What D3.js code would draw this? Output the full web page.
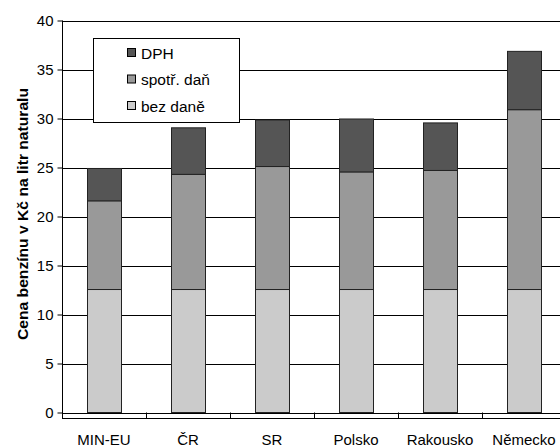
<!DOCTYPE html>
<html>
<head>
<meta charset="utf-8">
<script src="https://cdn.jsdelivr.net/npm/d3@7.9.0/dist/d3.min.js"></script>
<style>
  body { margin: 0; background: #fff; }
  text { font-family: Arial, "Liberation Sans", sans-serif; }
</style>
</head>
<body>
<svg id="chart" width="560" height="446"></svg>
<script>
const countries = ['MIN-EU', 'ČR', 'SR', 'Polsko', 'Rakousko', 'Německo'];
const bezDane = [12.55, 12.55, 12.55, 12.55, 12.55, 12.55];
const spotrDan = [9.05, 11.75, 12.55, 12.0, 12.15, 18.35];
const dph = [3.3, 4.75, 4.75, 5.4, 4.85, 5.95];
const seriesNames = ['bez daně', 'spotř. daň', 'DPH'];
const seriesColors = ['#cbcbcb', '#999999', '#555555'];
const yTicks = [0, 5, 10, 15, 20, 25, 30, 35, 40];

const svg = d3.select('#chart');
const plotLeft = 62, plotRight = 566, plotTop = 20.5, zeroY = 412.5;

let xb = d3.scaleBand().domain(countries).range([plotLeft, plotRight]);
let y = d3.scaleLinear().domain([0, 40]).range([zeroY, plotTop]);

// gridlines
svg.append('g').selectAll('line').data(yTicks).join('line')
  .attr('x1', plotLeft).attr('x2', 560)
  .attr('y1', d => Math.round(y(d)) + 0.5).attr('y2', d => Math.round(y(d)) + 0.5)
  .attr('stroke', '#000').attr('stroke-width', 1);

// stacked bars
let rows = countries.map((c, i) => ({ c, s0: bezDane[i], s1: spotrDan[i], s2: dph[i] }));
let stack = d3.stack().keys(['s0', 's1', 's2'])(rows);
let bw = 34;
stack.forEach((layer, k) => {
  svg.append('g').selectAll('rect').data(layer).join('rect')
    .attr('x', d => Math.round(xb(d.data.c) + xb.bandwidth() / 2 - bw / 2) + 0.5)
    .attr('width', bw)
    .attr('y', d => y(d[1]))
    .attr('height', d => y(d[0]) - y(d[1]))
    .attr('fill', seriesColors[k])
    .attr('stroke', '#222').attr('stroke-width', 1);
});

// y axis
let yAxis = d3.axisLeft(y).tickValues(yTicks).tickSize(5).tickPadding(4);
let gy = svg.append('g').attr('transform', `translate(${plotLeft + 0.5},0)`).call(yAxis);
gy.select('.domain').attr('d', `M0,${plotTop}V418.5`).attr('stroke', '#000');
gy.selectAll('text').attr('font-size', 15).attr('font-family', 'Arial, "Liberation Sans", sans-serif').attr('fill', '#000');
gy.selectAll('.tick line').attr('stroke', '#000');

// x axis line below zero
let gx = svg.append('g').attr('transform', 'translate(0,418.5)');
gx.append('line').attr('x1', plotLeft).attr('x2', 560).attr('stroke', '#000');
gx.selectAll('.sep').data(countries.slice(1)).join('line').attr('class', 'sep')
  .attr('x1', d => Math.round(xb(d)) + 0.5).attr('x2', d => Math.round(xb(d)) + 0.5)
  .attr('y1', 0).attr('y2', -6).attr('stroke', '#000');
gx.selectAll('text').data(countries).join('text')
  .attr('x', d => xb(d) + xb.bandwidth() / 2).attr('y', 26)
  .attr('text-anchor', 'middle').attr('font-size', 15).text(d => d);

// y label
svg.append('text')
  .attr('transform', 'translate(28,214) rotate(-90)')
  .attr('text-anchor', 'middle').attr('font-size', 14).attr('font-weight', 'bold')
  .attr('textLength', 252).attr('lengthAdjust', 'spacingAndGlyphs')
  .text('Cena benzínu v Kč na litr naturalu');

// legend
let lg = svg.append('g');
lg.append('rect').attr('x', 93.5).attr('y', 38.5).attr('width', 146).attr('height', 84)
  .attr('fill', '#fff').attr('stroke', '#000');
let legendItems = [2, 1, 0];
legendItems.forEach((k, i) => {
  let ly = 53 + i * 26.5;
  lg.append('rect').attr('x', 127.5).attr('y', ly - 4.5).attr('width', 8).attr('height', 8)
    .attr('fill', seriesColors[k]).attr('stroke', '#000');
  lg.append('text').attr('x', 141).attr('y', ly + 5.5).attr('font-size', 15.5).text(seriesNames[k]);
});
</script>
</body>
</html>
